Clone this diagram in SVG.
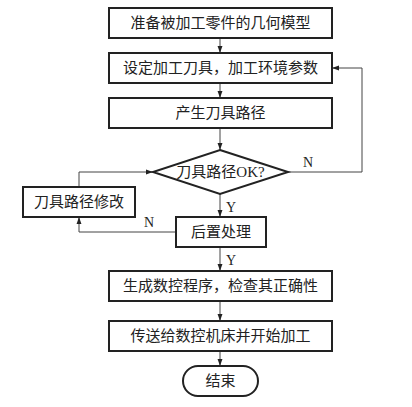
<svg xmlns="http://www.w3.org/2000/svg" width="412" height="407" viewBox="0 0 412 407">
<style>
.box{fill:#fff;stroke:#222;stroke-width:2}
.t{font-family:"Liberation Serif","Noto Sans CJK SC",serif;font-size:15px;fill:#222;text-anchor:middle;dominant-baseline:central}
.lb{font-family:"Liberation Serif",serif;font-size:14px;fill:#222}
.c{fill:none;stroke:#444;stroke-width:1}
</style>
<defs>
<marker id="ah" viewBox="0 0 10 10" refX="10" refY="5" markerWidth="7" markerHeight="7" markerUnits="userSpaceOnUse" orient="auto">
<path d="M0,1.5 L10,5 L0,8.5 Z" fill="#222"/>
</marker>
</defs>
<g id="connectors">
<line class="c" x1="220" y1="38" x2="220" y2="53" marker-end="url(#ah)"/>
<line class="c" x1="220" y1="83" x2="220" y2="98" marker-end="url(#ah)"/>
<line class="c" x1="220" y1="128" x2="220" y2="150" marker-end="url(#ah)"/>
<polyline class="c" points="288,172 362,172 362,68 332,68" marker-end="url(#ah)"/>
<line class="c" x1="220" y1="194" x2="220" y2="217" marker-end="url(#ah)"/>
<polyline class="c" points="79,187 79,172 153,172" marker-end="url(#ah)"/>
<polyline class="c" points="176,232 79,232 79,217" marker-end="url(#ah)"/>
<line class="c" x1="220" y1="247" x2="220" y2="271" marker-end="url(#ah)"/>
<line class="c" x1="220" y1="301" x2="220" y2="321" marker-end="url(#ah)"/>
<line class="c" x1="220" y1="351" x2="220" y2="366" marker-end="url(#ah)"/>
<text class="lb" x="303" y="167">N</text>
<text class="lb" x="226" y="212">Y</text>
<text class="lb" x="144" y="227">N</text>
<text class="lb" x="226" y="265">Y</text>
</g>
<g id="n1"><rect class="box" x="109" y="8" width="223" height="30"/><text class="t" x="220.5" y="23">准备被加工零件的几何模型</text></g>
<g id="n2"><rect class="box" x="109" y="53" width="223" height="30"/><text class="t" x="220.5" y="68">设定加工刀具，加工环境参数</text></g>
<g id="n3"><rect class="box" x="109" y="98" width="223" height="30"/><text class="t" x="220.5" y="113">产生刀具路径</text></g>
<g id="n4"><polygon class="box" points="220,150 288,172 220,194 153,172"/><text class="t" x="220.5" y="172">刀具路径OK?</text></g>
<g id="n5"><rect class="box" x="23" y="187" width="112" height="30"/><text class="t" x="79" y="202">刀具路径修改</text></g>
<g id="n6"><rect class="box" x="176" y="217" width="90" height="30"/><text class="t" x="221" y="232">后置处理</text></g>
<g id="n7"><rect class="box" x="109" y="271" width="223" height="30"/><text class="t" x="220.5" y="286">生成数控程序，检查其正确性</text></g>
<g id="n8"><rect class="box" x="109" y="321" width="223" height="30"/><text class="t" x="220.5" y="336">传送给数控机床并开始加工</text></g>
<g id="n9"><rect class="box" x="183" y="366" width="75" height="30" rx="15" ry="15"/><text class="t" x="220.5" y="381">结束</text></g>
</svg>
